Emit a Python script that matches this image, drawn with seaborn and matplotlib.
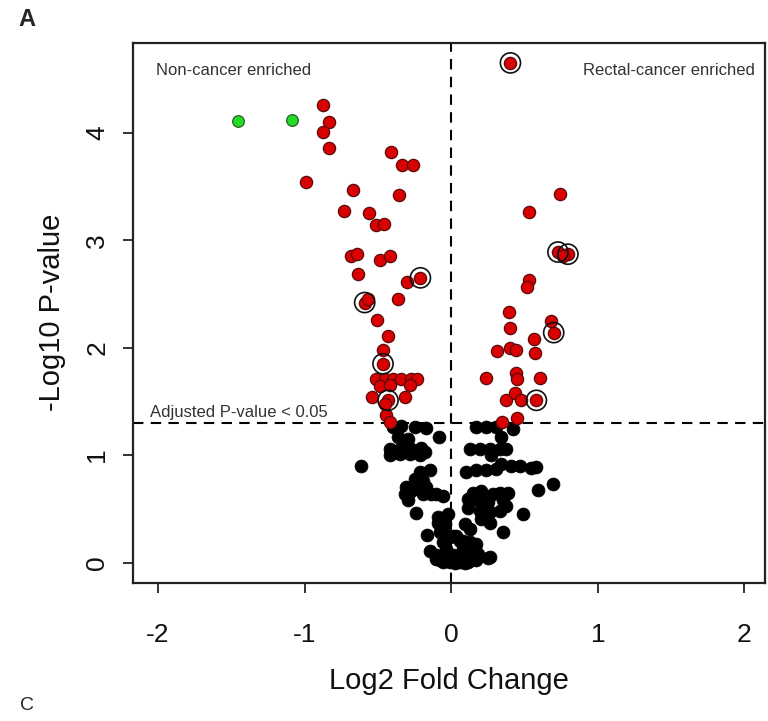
import numpy as np
import pandas as pd
import matplotlib
matplotlib.use('Agg')
import matplotlib.pyplot as plt
import seaborn as sns

# log2 fold change / -log10 p-value
green_x = [-1.455, -1.089]
green_y = [4.11, 4.12]

red_x = [-0.876, -0.835, -0.876, -0.835, -0.410, -0.337, -0.258, -0.990, -0.667, -0.353,
         -0.733, -0.562, -0.513, -0.455, -0.680, -0.642, -0.483, -0.414, -0.635, -0.210,
         -0.301, -0.590, -0.570, -0.363, -0.508, -0.431, -0.465, -0.465,
         -0.510, -0.453, -0.397, -0.339, -0.271, -0.233, -0.487, -0.419, -0.283,
         -0.540, -0.431, -0.317, -0.453, -0.442, -0.419,
         0.404, 0.740, 0.530, 0.728, 0.796, 0.760, 0.530, 0.517, 0.394, 0.399,
         0.683, 0.699, 0.564, 0.312, 0.399, 0.440, 0.574, 0.235, 0.440, 0.449,
         0.603, 0.372, 0.433, 0.479, 0.581, 0.349, 0.449]
red_y = [4.26, 4.10, 4.01, 3.86, 3.82, 3.70, 3.70, 3.54, 3.47, 3.42,
         3.27, 3.25, 3.14, 3.15, 2.85, 2.87, 2.82, 2.85, 2.69, 2.65,
         2.61, 2.42, 2.45, 2.45, 2.26, 2.11, 1.98, 1.85,
         1.71, 1.71, 1.71, 1.71, 1.71, 1.71, 1.64, 1.65, 1.65,
         1.54, 1.51, 1.54, 1.48, 1.37, 1.31,
         4.65, 3.43, 3.26, 2.89, 2.87, 2.85, 2.63, 2.56, 2.33, 2.18,
         2.25, 2.14, 2.08, 1.97, 2.00, 1.98, 1.95, 1.72, 1.76, 1.71,
         1.72, 1.51, 1.58, 1.51, 1.51, 1.31, 1.35]

black_x = [-0.397, -0.339, -0.249, -0.169, -0.085, -0.363, -0.294, -0.419, -0.339, -0.271,
           -0.203, -0.181, -0.419, -0.351, -0.283, -0.215, -0.612, -0.215, -0.147, -0.249,
           -0.192, -0.305, -0.237, -0.169, -0.101, -0.056, -0.317, -0.271, -0.192, -0.135,
           -0.294, -0.237, -0.090, -0.022, -0.044, -0.090, -0.165, -0.078, -0.022, -0.056,
           -0.147, -0.101, -0.056, -0.010, -0.078, -0.010, -0.033, -0.101, -0.010, 0.035,
           0.080, 0.126, 0.172, -0.022, 0.024, 0.070, 0.115, 0.160, 0.058, 0.262,
           0.172, 0.240, 0.308, 0.421, 0.342, 0.126, 0.194, 0.262, 0.331, 0.376,
           0.274, 0.342, 0.410, 0.467, 0.547, 0.581, 0.104, 0.172, 0.240, 0.308,
           0.694, 0.592, 0.149, 0.206, 0.285, 0.331, 0.387, 0.115, 0.183, 0.251,
           0.353, 0.376, 0.115, 0.194, 0.262, 0.331, 0.489, 0.206, 0.262, 0.092,
           0.126, 0.353, 0.012, 0.058, 0.126, 0.160, 0.080, 0.012, 0.080, 0.138,
           0.183, 0.035, 0.104, 0.172, 0.251, 0.024, 0.092]
black_y = [1.26, 1.27, 1.26, 1.25, 1.17, 1.17, 1.15, 1.06, 1.07, 1.06,
           1.07, 1.03, 1.00, 1.01, 1.01, 1.00, 0.90, 0.84, 0.86, 0.78,
           0.76, 0.70, 0.69, 0.70, 0.64, 0.62, 0.64, 0.67, 0.64, 0.64,
           0.58, 0.46, 0.42, 0.45, 0.36, 0.37, 0.26, 0.28, 0.25, 0.19,
           0.11, 0.07, 0.01, 0.03, 0.02, 0.01, 0.13, 0.03, 0.24, 0.25,
           0.20, 0.11, 0.17, 0.08, 0.05, 0.08, 0.01, 0.03, 0.01, 0.05,
           1.26, 1.26, 1.26, 1.24, 1.17, 1.06, 1.06, 1.06, 1.06, 1.06,
           1.00, 0.92, 0.90, 0.90, 0.88, 0.89, 0.84, 0.86, 0.86, 0.87,
           0.73, 0.68, 0.65, 0.67, 0.64, 0.65, 0.65, 0.59, 0.58, 0.56,
           0.58, 0.53, 0.51, 0.48, 0.47, 0.48, 0.45, 0.41, 0.37, 0.36,
           0.31, 0.28, 0.25, 0.20, 0.19, 0.13, 0.13, 0.07, 0.05, 0.03,
           0.08, 0.01, 0.01, 0.02, 0.04, 0.00, 0.00]

# highlighted (circled) features
circ_x = [0.404, -0.210, -0.590, 0.728, 0.796, 0.699, -0.465, -0.431, 0.581]
circ_y = [4.65, 2.65, 2.42, 2.89, 2.87, 2.14, 1.85, 1.51, 1.51]

x_ticks = [-2, -1, 0, 1, 2]
y_ticks = [0, 1, 2, 3, 4]
p_cut = 0.05

sns.set_style('ticks')
plt.rcParams['font.family'] = ['Liberation Sans', 'DejaVu Sans']

fig = plt.figure(figsize=(7.68, 7.21), dpi=100)
ax = fig.add_axes([133 / 768, 1 - 583 / 721, 632 / 768, 540.5 / 721])

black = pd.DataFrame({'x': black_x, 'y': black_y})
red = pd.DataFrame({'x': red_x, 'y': red_y})
green = pd.DataFrame({'x': green_x, 'y': green_y})
circ = pd.DataFrame({'x': circ_x, 'y': circ_y})

sns.scatterplot(data=black, x='x', y='y', ax=ax, color='black', s=85,
                edgecolor='black', linewidth=0.6, zorder=3)
sns.scatterplot(data=red, x='x', y='y', ax=ax, color='#d80000', s=78,
                edgecolor='#5a0a0a', linewidth=0.9, zorder=4)
sns.scatterplot(data=green, x='x', y='y', ax=ax, color='#22dd22', s=70,
                edgecolor='#2a5a2a', linewidth=0.9, zorder=4)
sns.scatterplot(data=circ, x='x', y='y', ax=ax, s=210, facecolor='none',
                edgecolor='#111111', linewidth=1.2, zorder=5)

dash = (0, (5, 3.5))
ax.axhline(-np.log10(p_cut), color='black', lw=1.5, linestyle=dash, zorder=2)
ax.axvline(0, color='black', lw=1.5, linestyle=dash, zorder=2)

ax.set_xlim(-2.17, 2.14)
ax.set_ylim(-0.19, 4.84)
ax.set_xticks(x_ticks)
ax.set_yticks(y_ticks)
ax.set_xticklabels([str(v) for v in x_ticks], fontsize=19, color='#111111')
ax.set_yticklabels([str(v) for v in y_ticks], fontsize=19, rotation=90, va='center',
                   color='#111111')
ax.tick_params(axis='both', length=7, width=1.3, color='#222222', direction='out')
ax.tick_params(axis='x', pad=22)
ax.tick_params(axis='y', pad=10)
for sp in ax.spines.values():
    sp.set_visible(True)
    sp.set_linewidth(1.6)
    sp.set_color('#222222')

ax.set_xlabel('Log2 Fold Change', fontsize=21, labelpad=14, color='#111111')
ax.set_ylabel('-Log10 P-value', fontsize=21, labelpad=14, color='#111111')

ax.text(-2.014, 4.58, 'Non-cancer enriched', fontsize=12, color='#333333',
        ha='left', va='center')
ax.text(2.069, 4.58, 'Rectal-cancer enriched', fontsize=12, color='#333333',
        ha='right', va='center')
ax.text(-2.055, 1.33, 'Adjusted P-value < 0.05', fontsize=12, color='#333333',
        ha='left', va='bottom')

fig.text(18 / 768, 1 - 20 / 721, 'A', fontsize=17, fontweight='bold', ha='left', va='center')
fig.text(20 / 768, 1 - 697 / 721, 'C', fontsize=14, ha='left', va='top')

fig.savefig('out.png', dpi=100)
